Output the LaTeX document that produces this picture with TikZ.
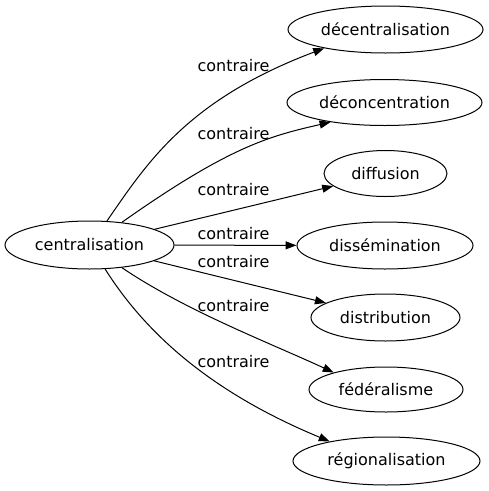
\documentclass[tikz,border=0pt]{standalone}
\usepackage{fontspec}
\setmainfont{DejaVu Sans}
\usetikzlibrary{arrows.meta,shapes.geometric}
\begin{document}
\begin{tikzpicture}[x=1pt,y=-1pt,
  term/.style={ellipse,draw,line width=1pt,inner sep=0pt,font=\fontsize{16}{19}\selectfont},
  rel/.style={font=\fontsize{16}{19}\selectfont,inner sep=0pt},
  conn/.style={draw,line width=1pt,-{Triangle[length=11pt,width=8pt]}}]
\useasboundingbox (0,0) rectangle (489,491);
\node[term,minimum width=169pt,minimum height=48pt] (c) at (89.5,245) {centralisation};
\node[term,minimum width=195pt,minimum height=47pt] (d1) at (385.5,29.5) {décentralisation};
\node[term,minimum width=195pt,minimum height=46pt] (d2) at (384.5,102.5) {déconcentration};
\node[term,minimum width=123pt,minimum height=46pt] (d3) at (385.5,173.5) {diffusion};
\node[term,minimum width=176pt,minimum height=47pt] (d4) at (385,245.5) {dissémination};
\node[term,minimum width=149pt,minimum height=47pt] (d5) at (385.5,317.5) {distribution};
\node[term,minimum width=154pt,minimum height=45pt] (d6) at (386,389.5) {fédéralisme};
\node[term,minimum width=187pt,minimum height=48pt] (d7) at (386.5,461) {régionalisation};

\draw[conn] (c.54) .. controls (147,163) and (187,100) .. (d1.197);
\draw[conn] (c.35) .. controls (230,146) and (270,136) .. (d2.200);
\draw[conn] (c) -- (d3);
\draw[conn] (c) -- (d4);
\draw[conn] (c) -- (d5);
\draw[conn] (c.325) .. controls (186,311) and (270,343) .. (d6.162);
\draw[conn] (c.303) .. controls (151.5,342.5) and (222.5,397) .. (d7.161);

\node[rel] (l1) at (233.5,65.5) {contraire};
\node[rel] (l2) at (233.5,134) {contraire};
\node[rel] (l3) at (233.5,190) {contraire};
\node[rel] (l4) at (233.5,234) {contraire};
\node[rel] (l5) at (233.5,262) {contraire};
\node[rel] (l6) at (233.5,306) {contraire};
\node[rel] (l7) at (233.5,362) {contraire};
\end{tikzpicture}
\end{document}
